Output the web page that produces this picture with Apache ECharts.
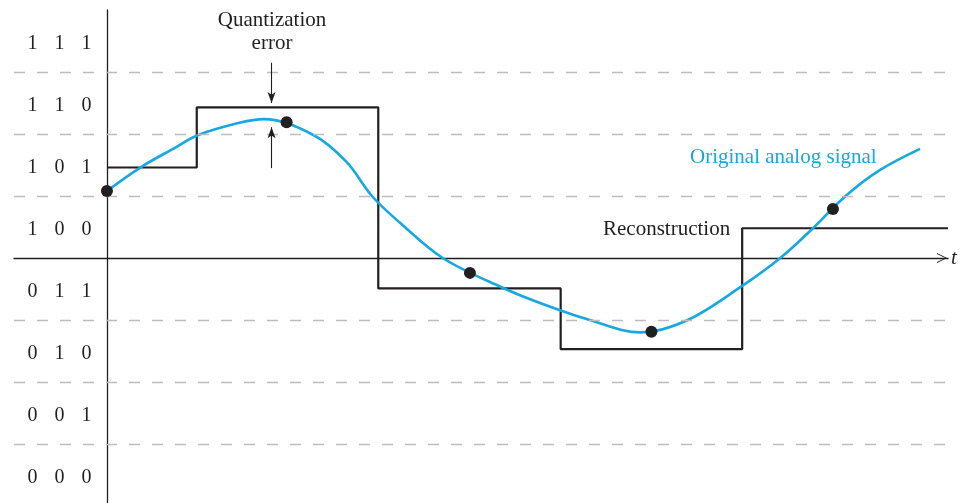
<!DOCTYPE html>
<html>
<head>
<meta charset="utf-8">
<script src="https://cdn.jsdelivr.net/npm/echarts@6/dist/echarts.min.js"></script>
<style>
  html, body { margin: 0; padding: 0; background: #fff; }
  #main { width: 960px; height: 503px; }
</style>
</head>
<body>
<div id="main"></div>
<script>
// code words, bottom to top
const codeWords = ['000', '001', '010', '011', '100', '101', '110', '111']
// quantization boundaries (dashed)
const boundaries = [-3, -2, -1, 1, 2, 3]
// analog signal (t in sample periods)
const curveT = [0, 0.19, 0.37, 0.5, 0.73, 0.865, 1.14, 1.32, 1.46, 1.61, 1.85, 2.18, 2.39, 2.66, 2.94, 3.2, 3.49, 3.71, 3.89, 4.07, 4.26, 4.48]
const curveV = [1.08, 1.47, 1.77, 1.98, 2.18, 2.24, 1.98, 1.55, 1.0, 0.58, 0, -0.48, -0.73, -1.0, -1.2, -1.0, -0.47, 0, 0.48, 1.0, 1.42, 1.76]
// samples
const sampleT = [0, 0.99, 2.0, 3.0, 4.0]
const sampleV = [1.08, 2.19, -0.24, -1.19, 0.79]
// reconstruction levels held for each sample
const levels = [1.46, 2.43, -0.49, -1.47, 0.48]
const tEnd = 4.634
// quantization error arrows [t, from, to]
const errArrows = [[0.907, 3.15, 2.5], [0.907, 1.45, 2.11]]

const serif = 'Liberation Serif'
const blue = '#14a9e2'
const ink = '#231f20'

const stairData = sampleT.map((t, i) => [t, levels[i]])
stairData.push([tEnd, levels[levels.length - 1]])

// code word label for the half-way ticks, nothing on the boundaries
const codeLabel = v => {
  const k = v + 3.5
  if (Math.abs(k - Math.round(k)) > 0.01) return ''
  const w = codeWords[Math.round(k)]
  return w ? w.split('').map(c => '{d|' + c + '}').join('') : ''
}

const myChart = echarts.init(document.getElementById('main'))
const option = {
  animation: false,
  grid: { left: 14, top: 10, width: 934, height: 496, outerBoundsMode: 'none', containLabel: false },
  xAxis: {
    type: 'value',
    min: -0.512,
    max: tEnd,
    axisLine: {
      onZero: true,
      onZeroAxisIndex: 0,
      lineStyle: { color: ink, width: 1.3 },
      symbol: ['none', 'path://M0,10 L5,0 L10,10 L9,10 L5,1.8 L1,10 Z'],
      symbolSize: [10, 14],
      symbolOffset: [0, -6]
    },
    axisTick: { show: false },
    axisLabel: { show: false },
    splitLine: { show: false }
  },
  yAxis: {
    type: 'value',
    position: 'left',
    offset: -93,
    min: -4,
    max: 4,
    interval: 0.5,
    axisLine: { show: true, onZero: false, lineStyle: { color: ink, width: 1.3 } },
    axisTick: { show: false },
    splitLine: { show: false },
    axisLabel: {
      margin: 7,
      padding: [6, 0, 0, 0],
      formatter: codeLabel,
      rich: {
        d: { width: 27, align: 'center', fontFamily: serif, fontSize: 20, color: ink }
      }
    }
  },
  series: [
    {
      type: 'line',
      data: [],
      silent: true,
      markLine: {
        silent: true,
        symbol: 'none',
        label: { show: false },
        lineStyle: { color: '#bdbdbd', type: [11, 12], width: 1.3 },
        data: boundaries.map(b => ({ yAxis: b }))
      }
    },
    {
      name: 'Reconstruction',
      type: 'line',
      step: 'middle',
      data: stairData,
      showSymbol: false,
      lineStyle: { color: ink, width: 2.2 },
      z: 3
    },
    {
      name: 'Original analog signal',
      type: 'line',
      smooth: 0.35,
      data: curveT.map((t, i) => [t, curveV[i]]),
      showSymbol: false,
      lineStyle: { color: blue, width: 2.6 },
      z: 4,
      markLine: {
        silent: true,
        symbol: ['none', 'arrow'],
        symbolSize: [6, 11],
        label: { show: false },
        lineStyle: { color: ink, width: 1.1, type: 'solid' },
        data: errArrows.map(a => [{ coord: [a[0], a[1]] }, { coord: [a[0], a[2]] }])
      }
    },
    {
      type: 'scatter',
      data: sampleT.map((t, i) => [t, sampleV[i]]),
      symbol: 'circle',
      symbolSize: 12,
      itemStyle: { color: ink, opacity: 1 },
      z: 6
    }
  ],
  graphic: [
    { type: 'text', x: 272, y: 32, style: { text: 'Quantization\nerror', align: 'center', verticalAlign: 'middle', fontFamily: serif, fontSize: 21, lineHeight: 23, fill: ink } },
    { type: 'text', x: 690, y: 157, style: { text: 'Original analog signal', verticalAlign: 'middle', fontFamily: serif, fontSize: 21, fill: blue } },
    { type: 'text', x: 603, y: 229, style: { text: 'Reconstruction', verticalAlign: 'middle', fontFamily: serif, fontSize: 21, fill: ink } },
    { type: 'text', x: 951, y: 258, style: { text: 't', verticalAlign: 'middle', fontFamily: serif, fontStyle: 'italic', fontSize: 21, fill: ink } }
  ]
}
myChart.setOption(option)
</script>
</body>
</html>
